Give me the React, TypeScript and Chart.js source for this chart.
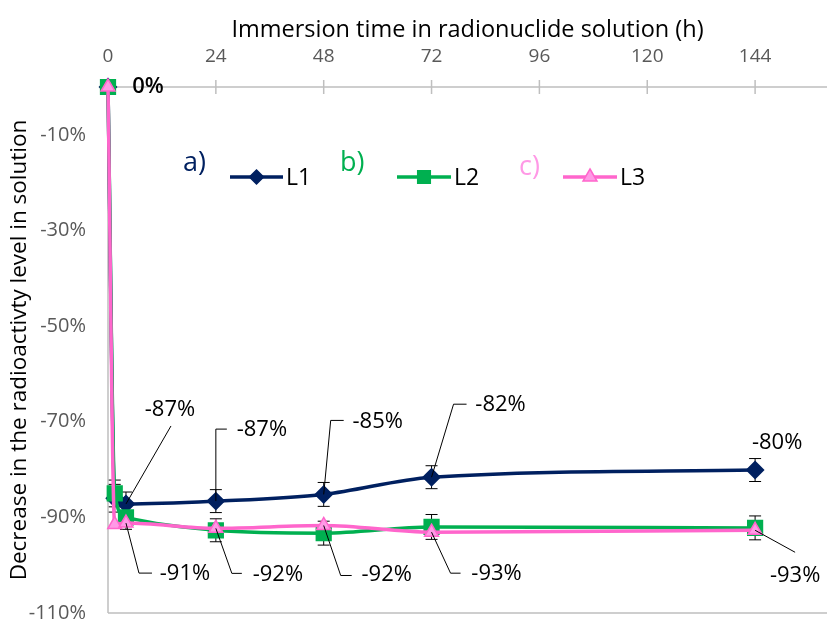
import React, { useEffect, useRef } from 'react';
import { Chart, registerables } from 'chart.js';

Chart.register(...registerables);

// ---- data ----
const hours = [0, 1.5, 4, 24, 48, 72, 144];
const seriesNames = ['L1', 'L2', 'L3'];
const l1Values = [0, -86, -87.2, -86.6, -85.2, -81.6, -80.1];
const l2Values = [0, -85, -90, -92.7, -93.3, -92, -92.2];
const l3Values = [0, -91.5, -91.2, -92.3, -91.7, -93.1, -92.7];
const l1Errors = [0, 2.9, 2.5, 2.4, 2.5, 2.4, 2.4];
const l2Errors = [0, 2.8, 2.5, 2.4, 2.5, 2.6, 2.5];
const xTickValues = [0, 24, 48, 72, 96, 120, 144];
const yTickValues = [-110, -90, -70, -50, -30, -10];
const legendTags = ['a)', 'b)', 'c)'];
const xTitle = 'Immersion time in radionuclide solution (h)';
const yTitle = 'Decrease in the radioactivty level in solution';

const allValues = [l1Values, l2Values, l3Values];
const allErrors = [l1Errors, l2Errors];

// ---- styles ----
const FONT = "'Open Sans', sans-serif";
const NAVY = '#002060';
const GREEN = '#00B050';
const PINK = '#FF66CC';
const PINK_LIGHT = '#FF99E6';
const AXIS_GRAY = '#BFBFBF';

// label layout: offsets (px) from point pixel; leader polyline offsets
type LabelSpec = { ds: number; i: number; dx: number; dy: number; leader?: [number, number][] };
const labelLayout: LabelSpec[] = [
  { ds: 2, i: 0, dx: 40, dy: 0 },
  { ds: 0, i: 2, dx: 44, dy: -94, leader: [[45, -78], [0, 0]] },
  { ds: 0, i: 3, dx: 46, dy: -71, leader: [[11, -72], [0, -72], [0, 0]] },
  { ds: 0, i: 4, dx: 54, dy: -73, leader: [[20, -74], [7, -74], [0, 0]] },
  { ds: 0, i: 5, dx: 69, dy: -72, leader: [[35, -73], [22, -73], [0, 0]] },
  { ds: 0, i: 6, dx: 22, dy: -27 },
  { ds: 2, i: 2, dx: 59, dy: 51, leader: [[0, 0], [13, 50], [26, 50]] },
  { ds: 2, i: 3, dx: 62, dy: 46, leader: [[0, 0], [16, 45], [26, 45]] },
  { ds: 2, i: 4, dx: 63, dy: 49, leader: [[0, 0], [17, 50], [28, 50]] },
  { ds: 2, i: 5, dx: 65, dy: 42, leader: [[0, 0], [19, 41], [29, 41]] },
  { ds: 2, i: 6, dx: 40, dy: 45, leader: [[0, 0], [40, 22]] },
];

function drawMarker(ctx: CanvasRenderingContext2D, kind: string, x: number, y: number, fill: string, stroke: string) {
  ctx.save();
  ctx.fillStyle = fill;
  ctx.strokeStyle = stroke;
  ctx.lineWidth = 1.5;
  ctx.beginPath();
  if (kind === 'diamond') {
    const r = 7;
    ctx.moveTo(x, y - r); ctx.lineTo(x + r, y); ctx.lineTo(x, y + r); ctx.lineTo(x - r, y); ctx.closePath();
  } else if (kind === 'square') {
    const s = 6.3;
    ctx.rect(x - s, y - s, 2 * s, 2 * s);
  } else {
    const r = 8;
    ctx.moveTo(x, y - r); ctx.lineTo(x + r * 0.87, y + r * 0.5); ctx.lineTo(x - r * 0.87, y + r * 0.5); ctx.closePath();
  }
  ctx.fill();
  ctx.stroke();
  ctx.restore();
}

const overlayPlugin = {
  id: 'overlay',
  beforeDatasetsDraw(chart: any) {
    const { ctx, chartArea, scales } = chart;
    const xs = scales.x, ys = scales.y;
    ctx.save();
    // axes lines
    ctx.strokeStyle = AXIS_GRAY;
    ctx.lineWidth = 1.5;
    const y0 = ys.getPixelForValue(0);
    ctx.beginPath();
    ctx.moveTo(chartArea.left, y0);
    ctx.lineTo(chartArea.right, y0);
    ctx.moveTo(chartArea.left, chartArea.top);
    ctx.lineTo(chartArea.left, chartArea.bottom);
    ctx.moveTo(chartArea.left, chartArea.bottom);
    ctx.lineTo(chartArea.right, chartArea.bottom);
    ctx.stroke();
    // tick marks crossing x axis
    ctx.beginPath();
    xTickValues.forEach((v) => {
      const px = xs.getPixelForValue(v);
      ctx.moveTo(px, y0 - 7);
      ctx.lineTo(px, y0 + 7);
    });
    ctx.stroke();
    // error bars
    ctx.strokeStyle = '#000';
    ctx.lineWidth = 1;
    allErrors.forEach((arr, ds) => {
      const meta = chart.getDatasetMeta(ds);
      const vals = allValues[ds];
      arr.forEach((e, i) => {
        if (!e) return;
        const px = meta.data[i].x;
        const yt = ys.getPixelForValue(vals[i] + e);
        const yb = ys.getPixelForValue(vals[i] - e);
        ctx.beginPath();
        ctx.moveTo(px, yt); ctx.lineTo(px, yb);
        ctx.moveTo(px - 6, yt); ctx.lineTo(px + 6, yt);
        ctx.moveTo(px - 6, yb); ctx.lineTo(px + 6, yb);
        ctx.stroke();
      });
    });
    ctx.restore();
  },
  afterDatasetsDraw(chart: any) {
    const { ctx } = chart;
    ctx.save();
    // data labels
    ctx.textAlign = 'center';
    ctx.textBaseline = 'middle';
    ctx.fillStyle = '#000';
    ctx.strokeStyle = '#000';
    ctx.lineWidth = 1;
    labelLayout.forEach((s) => {
      const pt = chart.getDatasetMeta(s.ds).data[s.i];
      const v = allValues[s.ds][s.i];
      const r = Math.round(v);
      const txt = `${r === 0 ? 0 : r}%`;
      if (s.leader) {
        ctx.beginPath();
        s.leader.forEach(([lx, ly], k) => {
          if (k === 0) ctx.moveTo(pt.x + lx, pt.y + ly);
          else ctx.lineTo(pt.x + lx, pt.y + ly);
        });
        ctx.stroke();
      }
      ctx.font = s.i === 0 ? `600 22px ${FONT}` : `22px ${FONT}`;
      ctx.fillText(txt, pt.x + s.dx, pt.y + s.dy);
    });
    // legend
    const items = [
      { tagX: 183, tagY: 163, tagColor: NAVY, x1: 230, x2: 283, color: NAVY, kind: 'diamond', fill: NAVY, stroke: NAVY },
      { tagX: 340, tagY: 163, tagColor: GREEN, x1: 397, x2: 451, color: GREEN, kind: 'square', fill: GREEN, stroke: GREEN },
      { tagX: 519, tagY: 167, tagColor: PINK_LIGHT, x1: 563, x2: 617, color: PINK, kind: 'triangle', fill: PINK_LIGHT, stroke: PINK },
    ];
    items.forEach((it, k) => {
      ctx.font = `27px ${FONT}`;
      ctx.textAlign = 'left';
      ctx.textBaseline = 'middle';
      ctx.fillStyle = it.tagColor;
      ctx.fillText(legendTags[k], it.tagX, it.tagY);
      ctx.strokeStyle = it.color;
      ctx.lineWidth = 3.5;
      ctx.beginPath();
      ctx.moveTo(it.x1, 177);
      ctx.lineTo(it.x2, 177);
      ctx.stroke();
      drawMarker(ctx, it.kind, (it.x1 + it.x2) / 2, 177, it.fill, it.stroke);
      ctx.font = `23px ${FONT}`;
      ctx.fillStyle = '#000';
      ctx.fillText(seriesNames[k], it.x2 + 3, 178);
    });
    ctx.restore();
  },
};

export default function App() {
  const ref = useRef<HTMLCanvasElement>(null);
  useEffect(() => {
    if (!ref.current) return;
    const mk = (vals: number[]) => vals.map((v, i) => ({ x: hours[i], y: v }));
    const chart = new Chart(ref.current, {
      type: 'line',
      data: {
        datasets: [
          {
            label: seriesNames[0], data: mk(l1Values) as any, borderColor: NAVY, backgroundColor: NAVY,
            borderWidth: 3.5, pointStyle: 'rectRot', pointRadius: 7, pointBackgroundColor: NAVY, pointBorderColor: NAVY,
            cubicInterpolationMode: 'monotone', tension: 0.4, order: 2, clip: false as any,
          },
          {
            label: seriesNames[1], data: mk(l2Values) as any, borderColor: GREEN, backgroundColor: GREEN,
            borderWidth: 3.5, pointStyle: 'rect', pointRadius: 9, pointBackgroundColor: GREEN, pointBorderColor: GREEN,
            cubicInterpolationMode: 'monotone', tension: 0.4, order: 1, clip: false as any,
          },
          {
            label: seriesNames[2], data: mk(l3Values) as any, borderColor: PINK, backgroundColor: PINK_LIGHT,
            borderWidth: 3.5, pointStyle: 'triangle', pointRadius: 8, pointBackgroundColor: PINK_LIGHT, pointBorderColor: PINK,
            pointBorderWidth: 1.5, cubicInterpolationMode: 'monotone', tension: 0.4, order: 0, clip: false as any,
          },
        ],
      },
      options: {
        animation: false,
        responsive: false,
        devicePixelRatio: 1,
        layout: { autoPadding: false, padding: { left: 0, right: 0, top: 0, bottom: 8 } },
        plugins: { legend: { display: false }, tooltip: { enabled: false } },
        scales: {
          x: {
            type: 'linear', position: 'top', min: 0, max: 160,
            grid: { display: false, drawTicks: false },
            border: { display: false },
            afterBuildTicks: (s: any) => { s.ticks = xTickValues.map((v) => ({ value: v })); },
            afterFit: (s: any) => { s.height = 87; s.paddingLeft = 0; s.paddingRight = 0; },
            ticks: { color: '#595959', font: { family: FONT, size: 19 }, padding: 19, maxRotation: 0, autoSkip: false },
            title: { display: true, text: xTitle, color: '#000', font: { family: FONT, size: 23.5 }, padding: { top: 16, bottom: 0 } },
          },
          y: {
            type: 'linear', min: -110, max: 0,
            grid: { display: false, drawTicks: false },
            border: { display: false },
            afterBuildTicks: (s: any) => { s.ticks = yTickValues.map((v) => ({ value: v })); },
            afterFit: (s: any) => { s.width = 108; s.paddingTop = 0; s.paddingBottom = 0; },
            ticks: { color: '#595959', font: { family: FONT, size: 20 }, padding: 22, callback: (v: any) => `${v}%` },
            title: { display: true, text: yTitle, color: '#000', font: { family: FONT, size: 22.5 }, padding: { top: 6, bottom: 0 } },
          },
        },
      },
      plugins: [overlayPlugin],
    });
    return () => chart.destroy();
  }, []);
  return (
    <div style={{ position: 'fixed', left: 0, top: 0, width: 827, height: 621, background: '#fff' }}>
      <canvas ref={ref} width={827} height={621} />
    </div>
  );
}
